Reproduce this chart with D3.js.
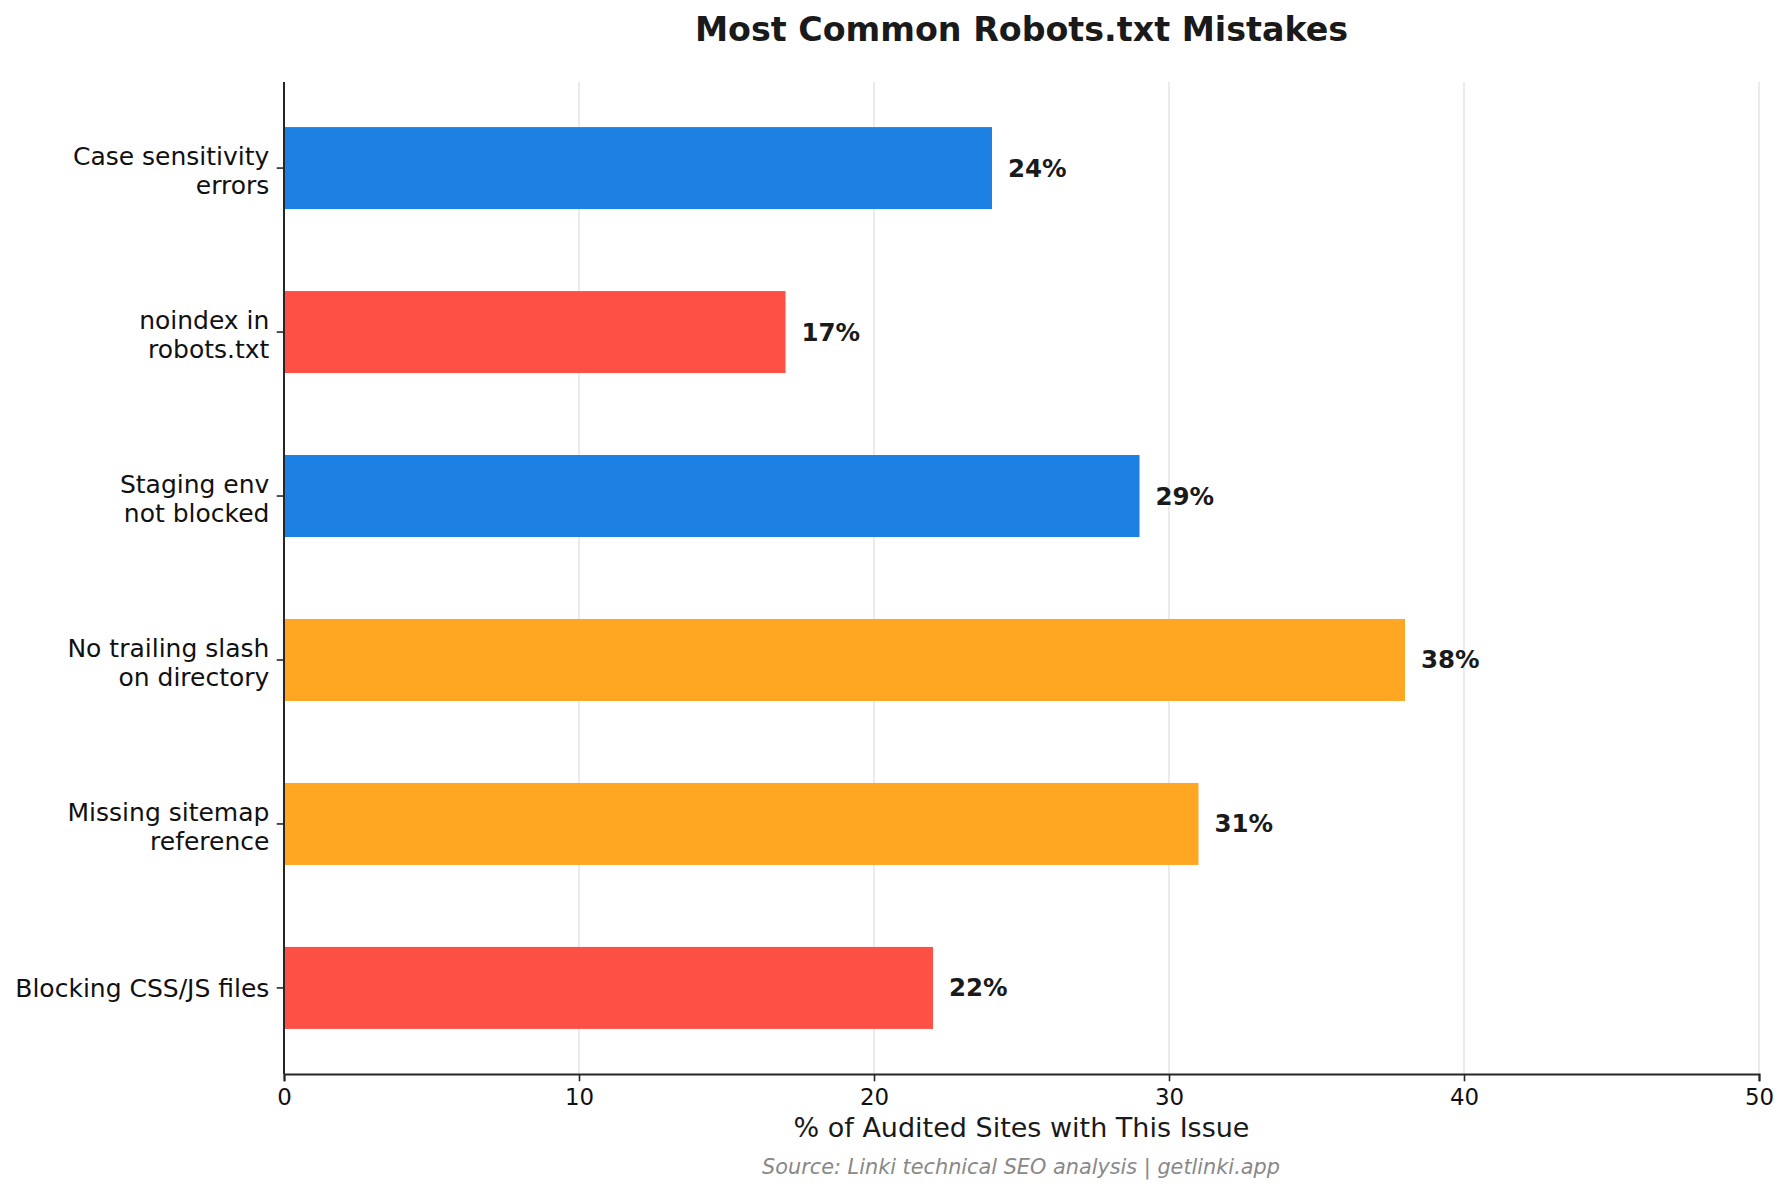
<!DOCTYPE html>
<html>
<head>
<meta charset="utf-8">
<script src="https://cdn.jsdelivr.net/npm/d3@7"></script>
<style>
  body { margin: 0; background: #fff; }
  svg { display: block; font-family: "DejaVu Sans", sans-serif; }
</style>
</head>
<body>
<svg class="svg"></svg>
<script>
// chart data, top to bottom
const categories = [
  "Case sensitivity\nerrors",
  "noindex in\nrobots.txt",
  "Staging env\nnot blocked",
  "No trailing slash\non directory",
  "Missing sitemap\nreference",
  "Blocking CSS/JS files",
];
const shares = [24, 17, 29, 38, 31, 22];
const severity = ["medium", "high", "medium", "low", "low", "high"];
const xTicks = [0, 10, 20, 30, 40, 50];

const colors = { high: "#ff5046", medium: "#1d80e3", low: "#ffa623" };

const W = 1786, H = 1194;
const m = { left: 284, right: 1759, top: 82, bottom: 1074 };

const svg = d3.select(".svg").attr("width", W).attr("height", H);

const x = d3.scaleLinear().domain([0, 50]).range([m.left, m.right]);
const y = d3.scaleBand()
  .domain(categories)
  .range([m.top, m.bottom])
  .paddingInner(0.5)
  .paddingOuter(0.275);

// grid
svg.append("g").selectAll("line").data(xTicks).join("line")
  .attr("x1", d => x(d)).attr("x2", d => x(d))
  .attr("y1", m.top).attr("y2", m.bottom)
  .attr("stroke", "#e5e5e5").attr("stroke-width", 1.5);

// bars
svg.append("g").selectAll("rect").data(categories).join("rect")
  .attr("x", x(0))
  .attr("y", d => y(d))
  .attr("width", (d, i) => x(shares[i]) - x(0))
  .attr("height", y.bandwidth())
  .attr("fill", (d, i) => colors[severity[i]]);

// value labels
svg.append("g").selectAll("text").data(categories).join("text")
  .attr("x", (d, i) => x(shares[i]) + 16)
  .attr("y", d => y(d) + y.bandwidth() / 2 + 8.5)
  .attr("font-size", "24.5px").attr("font-weight", "bold").attr("fill", "#1a1a1a")
  .text((d, i) => shares[i] + "%");

// x axis
const xAxis = svg.append("g")
  .attr("transform", `translate(0,${m.bottom})`)
  .call(d3.axisBottom(x).tickValues(xTicks).tickSize(7.3).tickPadding(7.3));
xAxis.select(".domain").attr("stroke", "#262626").attr("stroke-width", 2);
xAxis.selectAll(".tick line").attr("stroke", "#262626").attr("stroke-width", 1.6);
xAxis.selectAll(".tick text")
  .attr("font-size", "22.9px").attr("font-family", "DejaVu Sans").attr("fill", "#111");

// y axis
const yAxis = svg.append("g")
  .attr("transform", `translate(${m.left},0)`)
  .call(d3.axisLeft(y).tickSize(7.3).tickSizeOuter(0).tickPadding(7.3));
yAxis.select(".domain").attr("stroke", "#262626").attr("stroke-width", 2)
  .attr("d", `M0,${m.top}V${m.bottom}`);
yAxis.selectAll(".tick line").attr("stroke", "#262626").attr("stroke-width", 1.6);
yAxis.selectAll(".tick text").each(function (d) {
  const t = d3.select(this).text(null)
    .attr("font-size", "25px").attr("font-family", "DejaVu Sans").attr("fill", "#111")
    .attr("dy", null).attr("x", -14.6);
  const lines = d.split("\n");
  const start = lines.length === 1 ? 9 : -3;
  lines.forEach((ln, k) => {
    t.append("tspan").attr("x", -14.6).attr("y", start + k * 29).text(ln);
  });
});

// title, axis label, source
svg.append("text")
  .attr("x", (m.left + m.right) / 2).attr("y", 41)
  .attr("text-anchor", "middle").attr("font-size", "33.3px").attr("font-weight", "bold")
  .attr("fill", "#1a1a1a")
  .text("Most Common Robots.txt Mistakes");

svg.append("text")
  .attr("x", (m.left + m.right) / 2).attr("y", 1137)
  .attr("text-anchor", "middle").attr("font-size", "27px").attr("fill", "#1a1a1a")
  .text("% of Audited Sites with This Issue");

svg.append("text")
  .attr("x", 1021).attr("y", 1174)
  .attr("text-anchor", "middle").attr("font-size", "20.8px").attr("font-style", "italic")
  .attr("fill", "#888")
  .text("Source: Linki technical SEO analysis | getlinki.app");
</script>
</body>
</html>
